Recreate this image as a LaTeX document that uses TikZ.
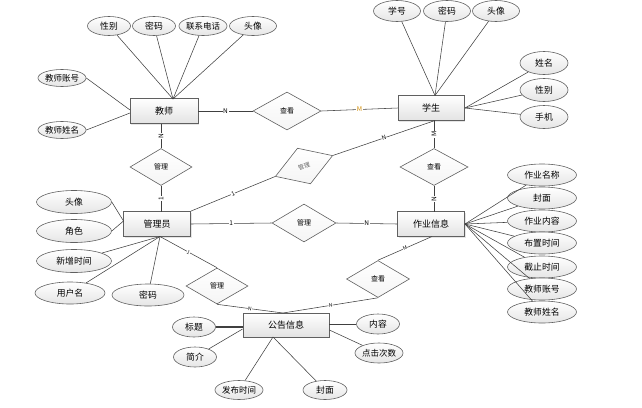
\documentclass[tikz,border=0pt]{standalone}
\usepackage{fontspec}
\setmainfont{Noto Sans CJK SC}
\usetikzlibrary{shapes.geometric,shadows,calc}
\definecolor{lineg}{HTML}{404040}
\definecolor{bord}{HTML}{606060}
\definecolor{morange}{HTML}{D08A00}
\tikzset{
  ent/.style={rectangle, draw=bord, line width=0.8pt, top color=white, bottom color=gray!22,
    minimum width=67pt, minimum height=25pt, inner sep=0pt, font=\fontsize{9}{10}\selectfont,
    drop shadow={shadow xshift=1pt, shadow yshift=-1pt, fill=gray!40}},
  attr/.style={ellipse, draw=bord, line width=0.6pt, top color=white, bottom color=gray!20,
    minimum width=45pt, minimum height=20pt, inner sep=0pt, font=\fontsize{8.8}{10}\selectfont},
  rel/.style={diamond, draw=bord, line width=0.6pt, top color=white, bottom color=gray!8,
    minimum width=63pt, minimum height=37pt, inner sep=0pt, font=\fontsize{7}{8}\selectfont},
  conn/.style={draw=lineg, line width=0.55pt},
  card/.style={fill=white, inner sep=0.6pt, font=\fontsize{6.5}{7}\selectfont},
  tcard/.style={fill=white, inner sep=0.3pt, font=\fontsize{5}{5}\selectfont, sloped}
}
\begin{document}
\begin{tikzpicture}[x=1pt,y=-1pt]
\useasboundingbox (0,0) rectangle (642,407);
% entities
\node[ent, minimum width=68pt] (T) at (164,111) {教师};
\node[ent, minimum width=66pt] (S) at (431,108) {学生};
\node[ent] (A) at (157,224) {管理员};
\node[ent] (H) at (431,224) {作业信息};
\node[ent, minimum width=86pt, minimum height=24pt] (P) at (286,325) {公告信息};
% relations
\node[rel, minimum width=68pt, minimum height=38pt] (R1) at (287,111) {查看};
\node[rel, minimum width=62pt] (R2) at (161,167) {管理};
\node[rel, minimum width=61pt, minimum height=38pt, rotate=20, text=gray!80!black, font=\fontsize{6}{7}\selectfont] (R3) at (304,166) {管理};
\node[rel, minimum width=68pt] (R4) at (434,167) {查看};
\node[rel, minimum width=64pt, minimum height=38pt] (R5) at (304,223) {管理};
\node[rel, minimum width=62pt, minimum height=36pt] (R6) at (217,286) {管理};
\node[rel] (R7) at (378,279) {查看};
% teacher attributes
\node[attr, minimum width=43pt, minimum height=19pt] (t1) at (109,26) {性别};
\node[attr, minimum width=43pt, minimum height=19pt] (t2) at (154,26) {密码};
\node[attr, minimum width=47pt, minimum height=19pt, font=\fontsize{8.5}{10}\selectfont] (t3) at (203,26) {联系电话};
\node[attr, minimum width=47pt, minimum height=19pt] (t4) at (253,26) {头像};
\node[attr, minimum width=47pt, minimum height=17pt, font=\fontsize{8.5}{10}\selectfont] (t5) at (62,78) {教师账号};
\node[attr, minimum width=47pt, minimum height=17pt, font=\fontsize{8.5}{10}\selectfont] (t6) at (62,130) {教师姓名};
\coordinate (Ttop) at (173,99);
\foreach \n in {t1,t2,t3,t4} \draw[conn] (\n) -- (Ttop);
\draw[conn] (t5.east) -- (130,110);
\draw[conn] (t6.east) -- (130,113);
% student attributes
\node[attr, minimum width=47pt, minimum height=21pt] (s1) at (397,11) {学号};
\node[attr, minimum width=47pt, minimum height=21pt] (s2) at (447,11) {密码};
\node[attr, minimum width=47pt, minimum height=21pt] (s3) at (496,11) {头像};
\node[attr, minimum width=48pt, minimum height=23pt] (s4) at (544,63) {姓名};
\node[attr, minimum width=48pt, minimum height=23pt] (s5) at (544,90) {性别};
\node[attr, minimum width=48pt, minimum height=23pt] (s6) at (544,117) {手机};
\coordinate (Stop) at (435,95.5);
\coordinate (Sright) at (465,108);
\foreach \n in {s1,s2,s3} \draw[conn] (\n) -- (Stop);
\foreach \n in {s4,s5,s6} \draw[conn] (\n) -- (Sright);
% admin attributes
\node[attr, minimum width=75pt, minimum height=23pt] (a1) at (74,202) {头像};
\node[attr, minimum width=75pt, minimum height=23pt] (a2) at (74,231) {角色};
\node[attr, minimum width=75pt, minimum height=23pt] (a3) at (74,261) {新增时间};
\node[attr, minimum width=70pt, minimum height=22pt] (a4) at (70,293) {用户名};
\node[attr, minimum width=72pt, minimum height=22pt] (a5) at (148,295) {密码};
\coordinate (Aleft) at (123.5,221);
\coordinate (Abot) at (160,236.5);
\draw[conn] (a1.east) -- (Aleft);
\draw[conn] (a2.east) -- (Aleft);
\draw[conn] (a3) -- (Abot);
\draw[conn] (a4) -- (Abot);
\draw[conn] (a5) -- (Abot);
% homework attributes
\foreach \t/\y [count=\i] in {作业名称/175,封面/198,作业内容/221,布置时间/243,截止时间/267,教师账号/289,教师姓名/312}
  \node[attr, minimum width=69pt, minimum height=22pt] (h\i) at (542,\y) {\t};
\coordinate (Hright) at (465,224);
\foreach \i in {1,...,7} \draw[conn] (h\i) -- (Hright);
% announcement attributes
\node[attr, minimum width=43pt, minimum height=20pt] (p1) at (194,327) {标题};
\node[attr, minimum width=43pt, minimum height=20pt] (p2) at (195,357) {简介};
\node[attr, minimum width=45pt, minimum height=19pt, font=\fontsize{8.5}{10}\selectfont] (p3) at (239,390) {发布时间};
\node[attr, minimum width=44pt, minimum height=19pt] (p4) at (325,390) {封面};
\node[attr, minimum width=43pt, minimum height=20pt] (p5) at (378,324) {内容};
\node[attr, minimum width=46pt, minimum height=20pt, font=\fontsize{8.5}{10}\selectfont] (p6) at (379,353) {点击次数};
\draw[draw=lineg, line width=1.4pt] (p1.east) -- (P.west |- p1.east);
\draw[conn] (p2) -- ($(P.west)+(0,4)$);
\coordinate (Pbot) at (273,337);
\draw[conn] (p3) -- (Pbot);
\draw[conn] (p4) -- (Pbot);
\draw[conn] (p5.west) -- (P.east |- p5.west);
\draw[conn] (p6) -- ($(P.east)+(0,5)$);
% relationship connectors
\draw[conn] (T.east) -- node[card]{N} (R1.west);
\draw[conn] (R1.east) -- node[card, text=morange]{M} (S.west);
\draw[conn] (161,123.5) -- node[card, rotate=90]{N} (R2.north);
\draw[conn] (R2.south) -- node[card, rotate=90]{1} (161,211.5);
\draw[conn] (A.east) -- node[card]{1} (R5.west);
\draw[conn] (R5.east) -- node[card]{N} (H.west);
\draw[conn] (434,120.5) -- node[card, rotate=90]{M} (R4.north);
\draw[conn] (R4.south) -- node[card, rotate=90]{N} (434,211.5);
\draw[conn] (A.north east) -- node[tcard, font=\fontsize{6}{6}\selectfont]{1} (R3.west);
\draw[conn] (R3.east) -- node[tcard, font=\fontsize{6}{6}\selectfont]{N} (435,120.5);
\coordinate (Ptop) at (283,313);
\draw[conn] (Abot) -- node[tcard]{1} (R6.north);
\draw[conn] (R6.south) -- node[tcard]{N} (Ptop);
\draw[conn] (432,236.5) -- node[tcard]{M} (R7.north);
\draw[conn] (R7.south) -- node[tcard]{N} (Ptop);
\end{tikzpicture}
\end{document}
